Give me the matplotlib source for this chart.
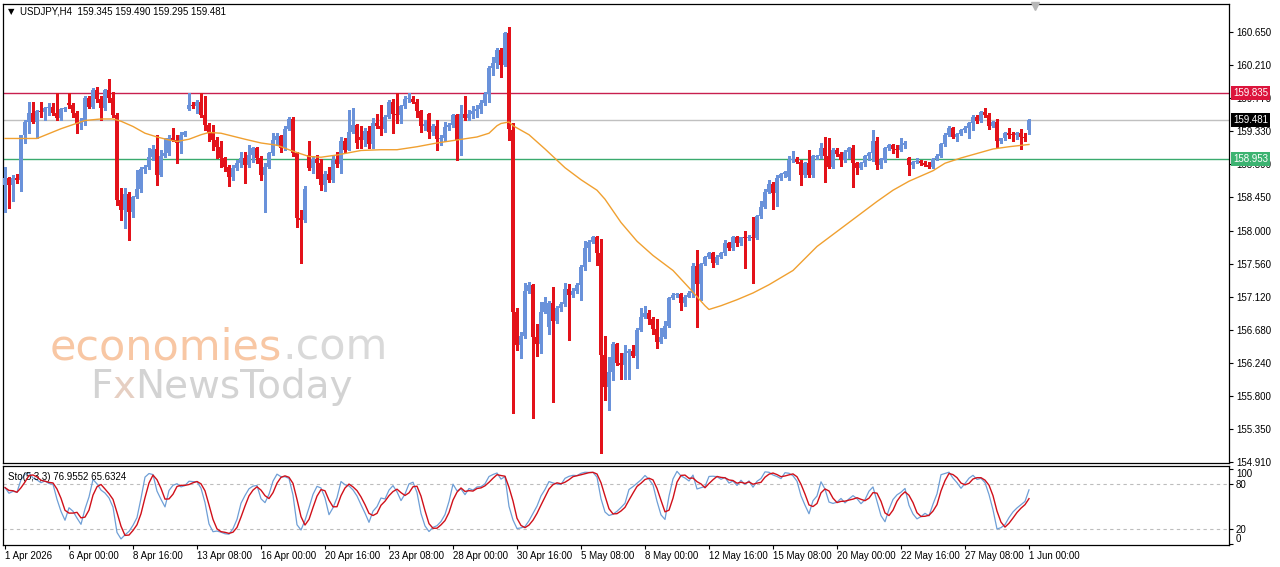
import numpy as np
import pandas as pd
import matplotlib
matplotlib.use("Agg")
import matplotlib.pyplot as plt
from matplotlib import transforms

# ---------------- data ----------------
title_text = "USDJPY,H4  159.345 159.490 159.295 159.481"
sto_text = "Sto(5,3,3) 76.9552 65.6324"

open_ = [
    158.61, 158.70, 158.61, 158.70, 158.68, 159.28, 159.45, 159.57, 159.45, 159.59,
    159.58, 159.63, 159.65, 159.57, 159.50, 159.62, 159.70, 159.68, 159.57, 159.42,
    159.45, 159.77, 159.65, 159.87, 159.75, 159.63, 159.87, 159.77, 159.54, 158.41,
    158.28, 158.49, 158.25, 158.45, 158.55, 158.82, 158.85, 158.98, 159.09, 158.74,
    159.00, 159.03, 159.23, 159.21, 159.17, 159.28, 159.62, 159.68, 159.66, 159.72,
    159.54, 159.41, 159.30, 159.21, 159.12, 158.97, 158.85, 158.72, 158.83, 158.90,
    158.97, 158.88, 159.01, 159.10, 158.97, 158.74, 158.85, 159.04, 159.21, 159.26,
    159.10, 159.35, 159.49, 159.03, 158.17, 158.14, 159.01, 158.83, 158.96, 158.90,
    158.61, 158.76, 158.67, 158.94, 158.89, 159.19, 159.08, 159.32, 159.41, 159.25,
    159.21, 159.33, 159.16, 159.43, 159.40, 159.35, 159.52, 159.72, 159.56, 159.54,
    159.66, 159.75, 159.76, 159.72, 159.59, 159.40, 159.56, 159.31, 159.40, 159.22,
    159.23, 159.38, 159.41, 159.54, 159.21, 159.56, 159.50, 159.56, 159.59, 159.62,
    159.70, 159.82, 160.17, 160.23, 160.41, 160.21, 160.63, 159.34, 156.92, 156.48,
    156.60, 157.19, 157.28, 156.58, 156.49, 156.92, 156.72, 157.03, 156.80, 156.97,
    157.02, 157.22, 157.14, 157.20, 157.28, 157.51, 157.77, 157.85, 157.91, 157.70,
    156.34, 155.92, 156.12, 156.49, 156.24, 156.21, 156.37, 156.39, 156.33, 156.68,
    156.85, 156.90, 156.82, 156.69, 156.51, 156.58, 156.73, 157.10, 157.14, 157.15,
    157.03, 157.12, 157.17, 157.53, 157.29, 157.56, 157.65, 157.70, 157.57, 157.65,
    157.70, 157.83, 157.77, 157.91, 157.83, 157.91, 157.90, 157.92, 157.90, 158.19,
    158.32, 158.52, 158.62, 158.50, 158.70, 158.75, 158.72, 158.94, 158.96, 158.92,
    158.74, 158.90, 158.74, 158.98, 159.00, 159.10, 158.99, 158.85, 159.08, 159.02,
    158.94, 159.05, 159.10, 158.90, 158.84, 158.90, 158.99, 159.03, 159.19, 158.88,
    158.94, 159.10, 159.14, 159.09, 159.07, 159.14, 158.97, 158.87, 158.91, 158.93,
    158.90, 158.87, 158.85, 158.96, 159.00, 159.15, 159.28, 159.37, 159.25, 159.29,
    159.34, 159.37, 159.43, 159.51, 159.46, 159.58, 159.54, 159.39, 159.45, 159.19,
    159.23, 159.30, 159.28, 159.27, 159.30, 159.25, 159.345,
]

high = [
    158.85, 158.72, 158.74, 158.76, 159.28, 159.48, 159.72, 159.72, 159.61, 159.71,
    159.65, 159.70, 159.70, 159.83, 159.63, 159.65, 159.83, 159.70, 159.59, 159.50,
    159.79, 159.79, 159.90, 159.91, 159.79, 159.89, 160.02, 159.85, 159.57, 158.57,
    158.57, 158.52, 158.46, 158.81, 158.85, 158.88, 159.10, 159.14, 159.28, 159.08,
    159.23, 159.28, 159.37, 159.28, 159.32, 159.33, 159.84, 159.72, 159.74, 159.84,
    159.79, 159.43, 159.41, 159.25, 159.19, 158.98, 158.88, 158.88, 158.94, 159.05,
    159.05, 159.14, 159.12, 159.12, 158.99, 158.90, 159.05, 159.30, 159.30, 159.28,
    159.39, 159.52, 159.52, 159.05, 158.28, 158.59, 159.19, 158.99, 159.01, 158.96,
    158.79, 158.85, 158.99, 159.05, 159.25, 159.23, 159.61, 159.63, 159.42, 159.39,
    159.37, 159.39, 159.50, 159.56, 159.68, 159.54, 159.74, 159.76, 159.83, 159.68,
    159.79, 159.83, 159.79, 159.75, 159.61, 159.48, 159.57, 159.42, 159.48, 159.28,
    159.45, 159.43, 159.56, 159.56, 159.68, 159.79, 159.61, 159.66, 159.68, 159.74,
    159.85, 160.19, 160.32, 160.43, 160.43, 160.65, 160.71, 159.43, 156.97, 156.65,
    157.30, 157.32, 157.29, 156.76, 157.05, 157.11, 157.06, 157.25, 157.00, 157.05,
    157.30, 157.29, 157.23, 157.30, 157.54, 157.86, 157.88, 157.93, 157.93, 157.89,
    156.59, 156.32, 156.52, 156.50, 156.37, 156.48, 156.42, 156.48, 156.70, 156.97,
    156.99, 156.94, 156.85, 156.82, 156.70, 156.79, 157.12, 157.17, 157.17, 157.17,
    157.14, 157.19, 157.57, 157.74, 157.57, 157.66, 157.72, 157.72, 157.68, 157.72,
    157.88, 157.85, 157.93, 157.93, 157.92, 158.00, 157.94, 158.18, 158.21, 158.39,
    158.56, 158.68, 158.65, 158.74, 158.77, 158.80, 159.00, 159.06, 158.98, 158.94,
    158.92, 159.08, 159.01, 159.01, 159.17, 159.25, 159.24, 159.10, 159.10, 159.05,
    159.07, 159.12, 159.14, 158.92, 158.91, 159.01, 159.05, 159.34, 159.25, 158.97,
    159.12, 159.15, 159.15, 159.14, 159.23, 159.19, 158.98, 158.93, 158.97, 158.94,
    158.93, 158.92, 158.97, 159.02, 159.17, 159.30, 159.39, 159.38, 159.30, 159.36,
    159.39, 159.45, 159.54, 159.54, 159.60, 159.64, 159.57, 159.46, 159.49, 159.24,
    159.32, 159.37, 159.32, 159.31, 159.36, 159.30, 159.490,
]

low = [
    158.25, 158.30, 158.40, 158.63, 158.53, 159.17, 159.30, 159.43, 159.23, 159.52,
    159.48, 159.54, 159.54, 159.47, 159.48, 159.59, 159.63, 159.52, 159.30, 159.35,
    159.41, 159.63, 159.63, 159.72, 159.48, 159.61, 159.72, 159.52, 158.34, 158.14,
    158.03, 157.88, 158.18, 158.44, 158.51, 158.77, 158.82, 158.94, 158.61, 158.73,
    158.98, 159.01, 159.19, 158.90, 159.03, 159.26, 159.61, 159.63, 159.57, 159.52,
    159.34, 159.19, 159.08, 158.97, 158.85, 158.79, 158.59, 158.68, 158.81, 158.85,
    158.63, 158.85, 158.92, 158.90, 158.68, 158.25, 158.83, 159.01, 159.14, 159.05,
    159.08, 159.34, 158.99, 158.05, 157.57, 158.12, 158.81, 158.77, 158.70, 158.54,
    158.53, 158.65, 158.65, 158.85, 158.77, 159.05, 159.07, 159.30, 159.10, 159.10,
    159.13, 159.10, 159.10, 159.37, 159.28, 159.32, 159.50, 159.30, 159.43, 159.43,
    159.63, 159.72, 159.70, 159.52, 159.32, 159.34, 159.23, 159.28, 159.08, 159.14,
    159.19, 159.34, 159.38, 158.94, 159.01, 159.48, 159.48, 159.50, 159.52, 159.57,
    159.68, 159.72, 160.08, 160.17, 160.05, 160.19, 159.21, 155.57, 156.41, 156.30,
    156.57, 157.17, 155.50, 156.33, 156.37, 156.90, 156.62, 155.71, 156.77, 156.93,
    156.99, 156.54, 157.12, 157.17, 157.07, 157.48, 157.59, 157.83, 157.54, 155.03,
    155.74, 155.61, 156.01, 156.21, 156.02, 156.02, 156.02, 156.32, 156.17, 156.66,
    156.83, 156.76, 156.62, 156.43, 156.50, 156.57, 156.72, 157.09, 157.12, 156.94,
    156.99, 157.11, 157.12, 156.72, 157.08, 157.54, 157.63, 157.51, 157.56, 157.63,
    157.68, 157.74, 157.74, 157.80, 157.81, 157.50, 157.88, 157.30, 157.89, 158.17,
    158.30, 158.50, 158.29, 158.33, 158.68, 158.72, 158.68, 158.91, 158.90, 158.61,
    158.72, 158.72, 158.72, 158.95, 158.97, 158.65, 158.83, 158.83, 159.00, 158.86,
    158.92, 158.97, 158.58, 158.76, 158.82, 158.86, 158.94, 158.93, 158.82, 158.83,
    158.92, 159.08, 159.03, 158.98, 159.06, 159.10, 158.74, 158.83, 158.90, 158.88,
    158.86, 158.84, 158.84, 158.94, 158.98, 159.13, 159.26, 159.24, 159.19, 159.28,
    159.32, 159.23, 159.34, 159.44, 159.45, 159.52, 159.36, 159.38, 159.11, 159.17,
    159.21, 159.23, 159.20, 159.22, 159.09, 159.20, 159.295,
]

close = [
    158.70, 158.61, 158.70, 158.68, 159.28, 159.45, 159.57, 159.45, 159.59, 159.58,
    159.63, 159.65, 159.57, 159.50, 159.62, 159.63, 159.68, 159.57, 159.42, 159.45,
    159.77, 159.65, 159.87, 159.75, 159.63, 159.87, 159.77, 159.54, 158.41, 158.28,
    158.49, 158.25, 158.45, 158.55, 158.82, 158.85, 158.98, 159.09, 158.74, 159.00,
    159.03, 159.23, 159.21, 159.17, 159.28, 159.31, 159.68, 159.66, 159.72, 159.54,
    159.41, 159.30, 159.21, 159.12, 158.97, 158.85, 158.72, 158.83, 158.90, 158.97,
    158.88, 159.01, 159.10, 158.97, 158.74, 158.85, 159.04, 159.21, 159.26, 159.10,
    159.35, 159.49, 159.03, 158.17, 158.14, 158.56, 158.83, 158.96, 158.90, 158.61,
    158.76, 158.67, 158.94, 158.89, 159.19, 159.08, 159.32, 159.41, 159.17, 159.21,
    159.33, 159.16, 159.43, 159.40, 159.35, 159.52, 159.72, 159.56, 159.54, 159.66,
    159.75, 159.76, 159.72, 159.59, 159.40, 159.42, 159.31, 159.40, 159.22, 159.23,
    159.38, 159.41, 159.54, 159.21, 159.56, 159.50, 159.56, 159.59, 159.62, 159.70,
    159.82, 160.17, 160.23, 160.41, 160.21, 160.63, 159.36, 156.92, 156.48, 156.60,
    157.19, 157.28, 156.58, 156.49, 156.92, 157.05, 157.04, 156.80, 156.97, 157.02,
    157.22, 157.14, 157.20, 157.28, 157.51, 157.77, 157.85, 157.91, 157.70, 156.34,
    155.92, 156.12, 156.49, 156.24, 156.21, 156.37, 156.39, 156.33, 156.68, 156.85,
    156.90, 156.82, 156.69, 156.51, 156.58, 156.73, 157.10, 157.14, 157.15, 157.03,
    157.12, 157.17, 157.53, 157.29, 157.56, 157.65, 157.70, 157.57, 157.65, 157.70,
    157.83, 157.77, 157.91, 157.83, 157.91, 157.90, 157.92, 157.90, 158.19, 158.32,
    158.52, 158.62, 158.50, 158.70, 158.75, 158.78, 158.94, 158.96, 158.92, 158.74,
    158.90, 158.74, 158.99, 159.00, 159.10, 158.99, 158.85, 159.08, 159.02, 158.94,
    159.05, 159.10, 158.90, 158.84, 158.90, 158.99, 159.03, 159.19, 158.88, 158.94,
    159.10, 159.14, 159.09, 159.07, 159.14, 159.17, 158.87, 158.91, 158.93, 158.90,
    158.87, 158.85, 158.96, 159.00, 159.15, 159.28, 159.37, 159.25, 159.29, 159.34,
    159.37, 159.43, 159.51, 159.46, 159.58, 159.54, 159.39, 159.45, 159.19, 159.23,
    159.30, 159.28, 159.27, 159.30, 159.25, 159.23, 159.481,
]

# moving average (bar index, value)
ma_bar = [0, 8, 14, 20, 24, 27, 29, 32, 35, 38, 41, 43, 46, 49, 51, 54, 57, 60,
          64, 68, 72, 76, 79, 83, 86, 89, 94, 98, 103, 108, 113, 118, 121, 123,
          124, 126, 127, 131, 135, 140, 144, 148, 150, 154, 158, 162, 167, 171,
          175, 176, 179, 183, 187, 191, 197, 203, 208, 213, 218, 222, 226, 232,
          235, 239, 243, 247, 251, 256]
ma_value = [159.23, 159.23, 159.36, 159.47, 159.49, 159.49, 159.46, 159.39,
            159.30, 159.25, 159.21, 159.19, 159.22, 159.28, 159.31, 159.30,
            159.26, 159.22, 159.17, 159.14, 159.06, 158.99, 158.98, 159.01,
            159.04, 159.07, 159.08, 159.08, 159.12, 159.17, 159.21, 159.25,
            159.30, 159.40, 159.43, 159.45, 159.40, 159.28, 159.09, 158.84,
            158.68, 158.54, 158.42, 158.11, 157.86, 157.67, 157.47, 157.24,
            157.00, 156.95, 157.00, 157.08, 157.17, 157.28, 157.47, 157.79,
            157.99, 158.19, 158.39, 158.54, 158.66, 158.80, 158.90, 158.97,
            159.03, 159.09, 159.12, 159.15]

price_ticks = [160.650, 160.210, 159.770, 159.330, 158.890, 158.450, 158.000,
               157.560, 157.120, 156.680, 156.240, 155.800, 155.350, 154.910]
date_tick_bars = list(range(0, 257, 16))
date_labels = ["1 Apr 2026", "6 Apr 00:00", "8 Apr 16:00", "13 Apr 08:00",
               "16 Apr 00:00", "20 Apr 16:00", "23 Apr 08:00", "28 Apr 00:00",
               "30 Apr 16:00", "5 May 08:00", "8 May 00:00", "12 May 16:00",
               "15 May 08:00", "20 May 00:00", "22 May 16:00", "27 May 08:00",
               "1 Jun 00:00"]
resistance = 159.835
bid = 159.481
support = 158.953
sto_levels = [80, 20]
sto_ticks = [100, 80, 20, 0]

# ---------------- styling ----------------
BLUE = "#6A92DA"
RED = "#E3121A"
FONT = ["Liberation Sans", "DejaVu Sans"]
plt.rcParams["font.family"] = FONT

W, H = 1280, 567
fig = plt.figure(figsize=(W / 100, H / 100), dpi=100)
fig.patch.set_facecolor("white")


def px(l, t, r, b):
    return [l / W, 1 - b / H, (r - l) / W, (b - t) / H]


ax = fig.add_axes(px(3, 4, 1229, 463))
ax2 = fig.add_axes(px(3, 466, 1229, 545))

o = np.array(open_)
h = np.array(high)
l = np.array(low)
c = np.array(close)
n = len(o)
x = np.arange(n)
up = c >= o
col = np.where(up, BLUE, RED)

bot = np.minimum(o, c)
top = np.maximum(o, c)
ax.vlines(x, np.minimum(l, bot), np.maximum(h, top), colors=col, linewidth=1.0,
          zorder=3, antialiased=False)
ax.bar(x, np.maximum(top - bot, 0.013), bottom=bot, width=0.76, color=col,
       linewidth=0, zorder=4, antialiased=False)

ax.plot(ma_bar, ma_value, color="#F0A030", linewidth=1.0, zorder=5)

ax.axhline(resistance, color="#C8204F", linewidth=1.0, zorder=2)
ax.axhline(bid, color="#C0C0C0", linewidth=1.0, zorder=2)
ax.axhline(support, color="#3AAA6E", linewidth=1.0, zorder=2)

xlim = (-0.5, 306)
ax.set_xlim(*xlim)
ax.set_ylim(154.903, 161.023)
ax.set_xticks([])
ax.yaxis.tick_right()
ax.set_yticks(price_ticks)
ax.set_yticklabels([f"{v:.3f}" for v in price_ticks])
ax.tick_params(axis="y", direction="out", length=3, width=0.8, labelsize=7,
               pad=2, colors="black")
for s in ax.spines.values():
    s.set_color("black")
    s.set_linewidth(0.9)

blend = transforms.blended_transform_factory(ax.transAxes, ax.transData)
for val, fc in [(resistance, "#DC143C"), (bid, "#000000"), (support, "#3CB371")]:
    ax.annotate(f"{val:.3f}", xy=(1.0, val), xycoords=blend, xytext=(3, 0),
                textcoords="offset points", ha="left", va="center", fontsize=7,
                color="white", zorder=10, annotation_clip=False,
                bbox=dict(boxstyle="square,pad=0.22", fc=fc, ec=fc, lw=0))

# chart-shift marker
ax.plot([n + 0.5], [0.995], marker="v", markersize=6, color="#B8B8B8",
        transform=transforms.blended_transform_factory(ax.transData, ax.transAxes),
        clip_on=False, zorder=6)

# title
fig.text(8 / W, 1 - 12 / H, "\u25BC", fontsize=6, family="DejaVu Sans",
         va="center", ha="left", color="black")
fig.text(20 / W, 1 - 12 / H, title_text, fontsize=7, va="center", ha="left",
         color="black")

# watermark
fig.canvas.draw()
rend = fig.canvas.get_renderer()
base1 = 1 - 360 / H
t1 = ax.text(50 / W, base1, "economies", transform=fig.transFigure, fontsize=31,
             family="DejaVu Sans", color="#F8C7A4", va="baseline", ha="left", zorder=0)
bb = t1.get_window_extent(rend)
ax.text(bb.x1 / W, base1, ".com", transform=fig.transFigure, fontsize=31,
        family="DejaVu Sans", color="#D9D9D9", va="baseline", ha="left", zorder=0)
base2 = 1 - 398 / H
t2 = ax.text(90 / W, base2, "F", transform=fig.transFigure, fontsize=28,
             family="DejaVu Sans", color="#D3D3D3", va="baseline", ha="left", zorder=0)
bb2 = t2.get_window_extent(rend)
t3 = ax.text(bb2.x1 / W, base2, "x", transform=fig.transFigure, fontsize=28,
             family="DejaVu Sans", color="#E6CFC2", va="baseline", ha="left", zorder=0)
bb3 = t3.get_window_extent(rend)
ax.text(bb3.x1 / W, base2, "NewsToday", transform=fig.transFigure, fontsize=28,
        family="DejaVu Sans", color="#D3D3D3", va="baseline", ha="left", zorder=0)

# ---------------- stochastic ----------------
hs, ls, cs = pd.Series(h), pd.Series(l), pd.Series(c)
ll5 = ls.rolling(5, min_periods=1).min()
hh5 = hs.rolling(5, min_periods=1).max()
k_line = 100 * (cs - ll5).rolling(3, min_periods=1).sum() / (hh5 - ll5).rolling(3, min_periods=1).sum()
d_line = k_line.rolling(3, min_periods=1).mean()

for lev in sto_levels:
    ax2.axhline(lev, color="#BDBDBD", linewidth=0.8, linestyle=(0, (3, 3)), zorder=1)
ax2.plot(x, k_line.values, color="#6F9FD6", linewidth=0.9, zorder=3)
ax2.plot(x, d_line.values, color="#D0101A", linewidth=1.0, zorder=4)
ax2.set_xlim(*xlim)
ax2.set_ylim(-1.5, 103.8)
ax2.yaxis.tick_right()
ax2.set_yticks(sto_ticks)
ax2.set_yticklabels([str(v) for v in sto_ticks])
for lab, v in zip(ax2.get_yticklabels(), sto_ticks):
    if v == 100:
        lab.set_va("top")
    elif v == 0:
        lab.set_va("bottom")
ax2.tick_params(axis="y", direction="out", length=3, width=0.8, labelsize=7, pad=2)
ax2.set_xticks(date_tick_bars)
ax2.set_xticklabels(date_labels, ha="left")
ax2.tick_params(axis="x", direction="out", length=3, width=0.8, labelsize=7, pad=1.5)
for s in ax2.spines.values():
    s.set_color("black")
    s.set_linewidth(0.9)
ax2.text(0.004, 0.86, sto_text, transform=ax2.transAxes, fontsize=7, va="center",
         ha="left", color="black")

fig.savefig("out.png", dpi=100, facecolor="white")
